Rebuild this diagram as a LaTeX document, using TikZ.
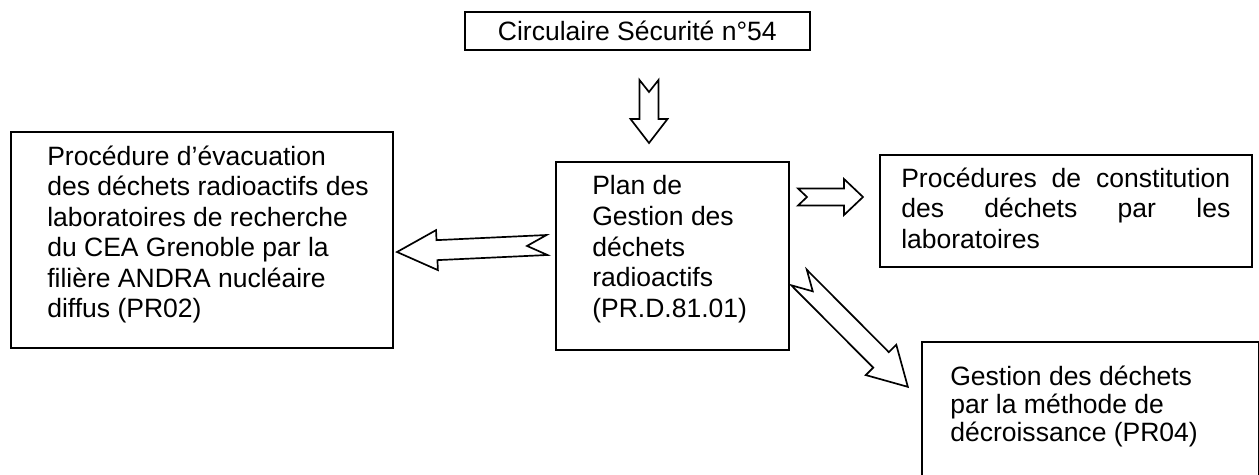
\documentclass[tikz,border=0pt]{standalone}
\usepackage{fontspec}
\setmainfont{Liberation Sans}
\usepackage{tikz}
\usetikzlibrary{calc}

% notched block arrow: from, to, half body, half head, head length, notch depth
\newcommand{\hollowarrow}[6]{%
	\draw[line width=1.2pt, fill=white] let \p1=(#1), \p2=(#2), \n1={atan2(\y2-\y1,\x2-\x1)}, \n2={veclen(\x2-\x1,\y2-\y1)} in
		[shift={(\p1)}, rotate=\n1] (0pt,#3) -- ({\n2-#5},#3) -- ({\n2-#5},#4) -- ({\n2*1pt},0pt) -- ({\n2-#5},-#4) -- ({\n2-#5},-#3) -- (0pt,-#3) -- (#6,0pt) -- cycle;}

\begin{document}
\begin{tikzpicture}[
		box/.style={draw, line width=1.2pt, anchor=north west, inner sep=0pt},
		boxtext/.style={anchor=north west, inner sep=0pt, align=left, font=\fontsize{18.86}{21.7}\selectfont}
	]

		\useasboundingbox (0,0) rectangle (31.475,11.85);

		% circular at the top
		\node[box, minimum width=8.625cm, minimum height=0.95cm, font=\fontsize{18.86}{21.7}\selectfont] (circ) at (11.6,11.575) {Circulaire Sécurité n°54};

		% management plan in the middle
		\node[box, minimum width=5.825cm, minimum height=4.7cm] (plan) at (13.875,7.825) {};
		\node[boxtext] (plantext) at (14.8,7.4625) {Plan de\\Gestion des\\déchets\\radioactifs\\(PR.D.81.01)};

		% evacuation procedure on the left
		\node[box, minimum width=9.55cm, minimum height=5.4cm] (evac) at (0.25,8.575) {};
		\node[boxtext] (evactext) at (1.175,8.2125) {Procédure d’évacuation\\des déchets radioactifs des\\laboratoires de recherche\\du CEA Grenoble par la\\filière ANDRA nucléaire\\diffus (PR02)};

		% constitution procedures on the right
		\node[box, minimum width=9.3cm, minimum height=2.8cm] (constit) at (21.975,8.0) {};
		\node[boxtext, text width=8.225cm, align=justify] (constittext) at (22.525,7.6625) {Procédures de constitution\linebreak des déchets par les\linebreak laboratoires};

		% decay method, bottom right
		\node[box, minimum width=8.425cm, minimum height=3.725cm] (decr) at (23.025,3.325) {};
		\node[boxtext, font=\fontsize{18.86}{19.92}\selectfont] (decrtext) at (23.75,2.7125) {Gestion des déchets\\par la méthode de\\décroissance (PR04)};

		% arrow ends
		\coordinate (circout) at (16.225,9.85);
		\coordinate (planin) at (16.225,8.275);
		\coordinate (westout) at (13.675,5.725);
		\coordinate (evacin) at (9.925,5.55);
		\coordinate (eastout) at (19.95,6.925);
		\coordinate (constitin) at (21.575,6.925);
		\coordinate (southout) at (19.975,4.9125);
		\coordinate (decrin) at (22.7,2.175);

		% hollow arrows
		\hollowarrow{circout}{planin}{0.2375cm}{0.4625cm}{0.6cm}{0.3cm}
		\hollowarrow{westout}{evacin}{0.25cm}{0.5cm}{1.0cm}{0.5cm}
		\hollowarrow{eastout}{constitin}{0.2125cm}{0.45cm}{0.475cm}{0.225cm}
		\hollowarrow{southout}{decrin}{0.275cm}{0.5375cm}{0.95cm}{0.4875cm}

\end{tikzpicture}
\end{document}
